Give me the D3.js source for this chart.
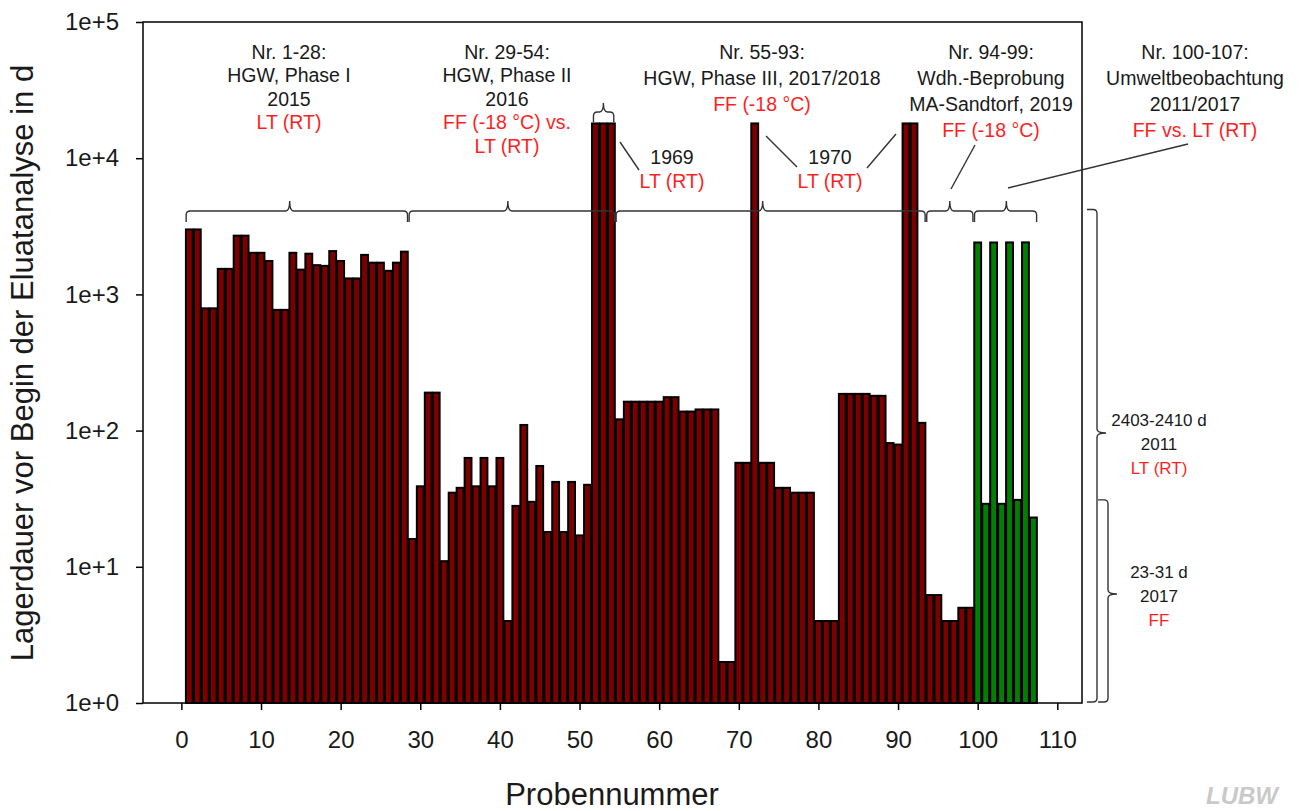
<!DOCTYPE html>
<html>
<head>
<meta charset="utf-8">
<script src="https://cdn.jsdelivr.net/npm/d3@7"></script>
<style>
  html, body { margin: 0; padding: 0; background: #fff; }
  svg { display: block; font-family: "Liberation Sans", Arial, sans-serif; }
</style>
</head>
<body>
<svg id="chart" width="1306" height="811"></svg>
<script>
// Sample numbers 1..107 and storage duration (days) before eluate analysis
const sampleNumbers = d3.range(1, 108);
const storageDays = [
  3000, 3000, 790, 790, 1540, 1540, 2700, 2700, 2020, 2020,
  1760, 770, 770, 2020, 1520, 1990, 1640, 1620, 2080, 1760,
  1310, 1310, 1950, 1710, 1710, 1490, 1710, 2060,
  16, 39, 190, 190, 11, 35, 38, 63, 39, 63,
  39, 63, 4, 28, 110, 30, 55, 18, 42, 18,
  42, 17, 40, 18000, 18000, 18000,
  121, 163, 163, 163, 163, 163, 176, 176, 138, 138,
  143, 143, 143, 2, 2, 58, 58, 18000, 58, 58,
  38, 38, 35, 35, 35, 4, 4, 4, 186, 186,
  186, 186, 180, 180, 81, 79, 18000, 18000, 114,
  6.2, 6.2, 4, 4, 5, 5,
  2405, 29, 2405, 29, 2408, 31, 2410, 23
];
// Environmental monitoring samples (100-107) are drawn in green
const greenFrom = 100;

const xTicks = d3.range(0, 111, 10);
const yTicks = [1, 10, 100, 1000, 10000, 100000];
const yTickLabels = ["1e+0", "1e+1", "1e+2", "1e+3", "1e+4", "1e+5"];

// Sample groups with their bracket ranges and tip positions
const groups = [
  { from: 1, to: 28, tip: 13.6, lines: ["Nr. 1-28:", "HGW, Phase I", "2015"], red: ["LT (RT)"], cx: 289 },
  { from: 29, to: 54, tip: 41.0, lines: ["Nr. 29-54:", "HGW, Phase II", "2016"], red: ["FF (-18 °C) vs.", "LT (RT)"], cx: 507 },
  { from: 55, to: 93, tip: 73.0, lines: ["Nr. 55-93:", "HGW, Phase III, 2017/2018"], red: ["FF (-18 °C)"], cx: 762 },
  { from: 94, to: 99, tip: 96.5, lines: ["Nr. 94-99:", "Wdh.-Beprobung", "MA-Sandtorf, 2019"], red: ["FF (-18 °C)"], cx: 991 },
  { from: 100, to: 107, tip: 103.6, lines: ["Nr. 100-107:", "Umweltbeobachtung", "2011/2017"], red: ["FF vs. LT (RT)"], cx: 1195 }
];

const svg = d3.select("#chart");
const plotL = 143, plotR = 1082, plotT = 22, plotB = 703;

const x = d3.scaleLinear().domain([-4.82, 113.1]).range([plotL, plotR]);
const y = d3.scaleLog().domain([1, 1e5]).range([plotB, plotT]);

const darkRed = "#7d0000";
const green = "#008000";
const textCol = "#1a1a1a";
const redText = "#ff1f1f";

// Bars
const barW = x(0.86) - x(0);
svg.append("g").selectAll("rect")
  .data(sampleNumbers)
  .join("rect")
  .attr("x", n => x(n) - barW / 2)
  .attr("width", barW)
  .attr("y", (n, i) => y(storageDays[i]))
  .attr("height", (n, i) => y(1) - y(storageDays[i]))
  .attr("fill", n => n >= greenFrom ? green : darkRed)
  .attr("stroke", "#000")
  .attr("stroke-width", 2);

// Frame
svg.append("rect")
  .attr("x", plotL).attr("y", plotT)
  .attr("width", plotR - plotL).attr("height", plotB - plotT)
  .attr("fill", "none").attr("stroke", "#000").attr("stroke-width", 1.5);

// Axes
const xAxis = d3.axisBottom(x).tickValues(xTicks).tickSize(7).tickPadding(21);
const gx = svg.append("g").attr("transform", `translate(0,${plotB})`).call(xAxis);
gx.select(".domain").remove();
gx.selectAll("line").attr("stroke", "#000").attr("stroke-width", 1.5);
gx.selectAll("text").attr("font-size", 24).attr("fill", textCol)
  .attr("font-family", "Liberation Sans, Arial, sans-serif");

const yAxis = d3.axisLeft(y).tickValues(yTicks).tickFormat((d, i) => yTickLabels[i])
  .tickSize(7).tickPadding(17);
const gy = svg.append("g").attr("transform", `translate(${plotL},0)`).call(yAxis);
gy.select(".domain").remove();
gy.selectAll("line").attr("stroke", "#000").attr("stroke-width", 1.5);
gy.selectAll("text").attr("font-size", 24).attr("fill", textCol)
  .attr("font-family", "Liberation Sans, Arial, sans-serif");

// Axis titles
svg.append("text")
  .attr("x", 612).attr("y", 805)
  .attr("text-anchor", "middle")
  .attr("font-size", 31).attr("fill", textCol)
  .text("Probennummer");

svg.append("text")
  .attr("transform", "translate(33,363) rotate(-90)")
  .attr("text-anchor", "middle")
  .attr("font-size", 31).attr("fill", textCol)
  .text("Lagerdauer vor Begin der Eluatanalyse in d");

// Horizontal curly brace: ends hook downward, tip points up
function braceH(x1, x2, xm, yy, h, t) {
  const r = 4;
  return `M${x1},${yy + h} L${x1},${yy + r} Q${x1},${yy} ${x1 + r},${yy}` +
    ` L${xm - r},${yy} Q${xm},${yy} ${xm},${yy - t} Q${xm},${yy} ${xm + r},${yy}` +
    ` L${x2 - r},${yy} Q${x2},${yy} ${x2},${yy + r} L${x2},${yy + h}`;
}
// Vertical curly brace: ends hook left, tip points right
function braceV(xx, y1, y2, ym, w, t) {
  const r = 4;
  return `M${xx - w},${y1} L${xx - r},${y1} Q${xx},${y1} ${xx},${y1 + r}` +
    ` L${xx},${ym - r} Q${xx},${ym} ${xx + t},${ym} Q${xx},${ym} ${xx},${ym + r}` +
    ` L${xx},${y2 - r} Q${xx},${y2} ${xx - r},${y2} L${xx - w},${y2}`;
}

const ann = svg.append("g").attr("fill", "none").attr("stroke", "#333").attr("stroke-width", 1.4);

groups.forEach(g => {
  ann.append("path").attr("d", braceH(x(g.from - 0.4), x(g.to + 0.4), x(g.tip), 211, 11, 10));
});
// Small brace over samples 52-54
ann.append("path").attr("d", braceH(x(51.75), x(54.3), x(53), 112, 10, 9));

// Leader lines to labels
const leaders = [
  [[620, 142], [639, 170]],
  [[766, 136], [797, 167]],
  [[867, 168], [896, 134]],
  [[951, 189], [975, 145]],
  [[1008, 188], [1188, 144]]
];
leaders.forEach(l => ann.append("path").attr("d", d3.line()(l)));

// Right-hand braces for the green samples
ann.append("path").attr("d", braceV(1097, y(4200), y(1) - 1, 433, 10, 9));
ann.append("path").attr("d", braceV(1108, y(31), y(1) - 1, 594, 10, 9));

// Group labels
const lh = 23.5;
groups.forEach(g => {
  const t = svg.append("g").attr("text-anchor", "middle").attr("font-size", 19.5);
  const all = g.lines.map(s => ({ s, c: textCol })).concat(g.red.map(s => ({ s, c: redText })));
  const step = g.lines.length === 2 || g.from >= 94 ? 26 : lh;
  all.forEach((d, i) => {
    t.append("text").attr("x", g.cx).attr("y", 52 + i * step).attr("dy", "0.35em")
      .attr("fill", d.c).text(d.s);
  });
});

// Year labels of the old reference samples
const yearLabels = [
  { x: 672, year: "1969" },
  { x: 830, year: "1970" }
];
yearLabels.forEach(d => {
  svg.append("text").attr("x", d.x).attr("y", 157).attr("dy", "0.35em")
    .attr("text-anchor", "middle").attr("font-size", 19.5).attr("fill", textCol).text(d.year);
  svg.append("text").attr("x", d.x).attr("y", 181).attr("dy", "0.35em")
    .attr("text-anchor", "middle").attr("font-size", 19.5).attr("fill", redText).text("LT (RT)");
});

// Right-hand labels
const sideLabels = [
  { y: 420, lines: ["2403-2410 d", "2011"], red: "LT (RT)" },
  { y: 572, lines: ["23-31 d", "2017"], red: "FF" }
];
sideLabels.forEach(d => {
  const t = svg.append("g").attr("text-anchor", "middle").attr("font-size", 17);
  d.lines.forEach((s, i) => t.append("text").attr("x", 1159).attr("y", d.y + i * 24)
    .attr("dy", "0.35em").attr("fill", textCol).text(s));
  t.append("text").attr("x", 1159).attr("y", d.y + 48).attr("dy", "0.35em")
    .attr("fill", redText).text(d.red);
});

// Logo
svg.append("text")
  .attr("x", 1278).attr("y", 804)
  .attr("text-anchor", "end")
  .attr("font-size", 24).attr("font-weight", "bold").attr("font-style", "italic")
  .attr("fill", "#c9c9c9")
  .text("LUBW");
</script>
</body>
</html>
